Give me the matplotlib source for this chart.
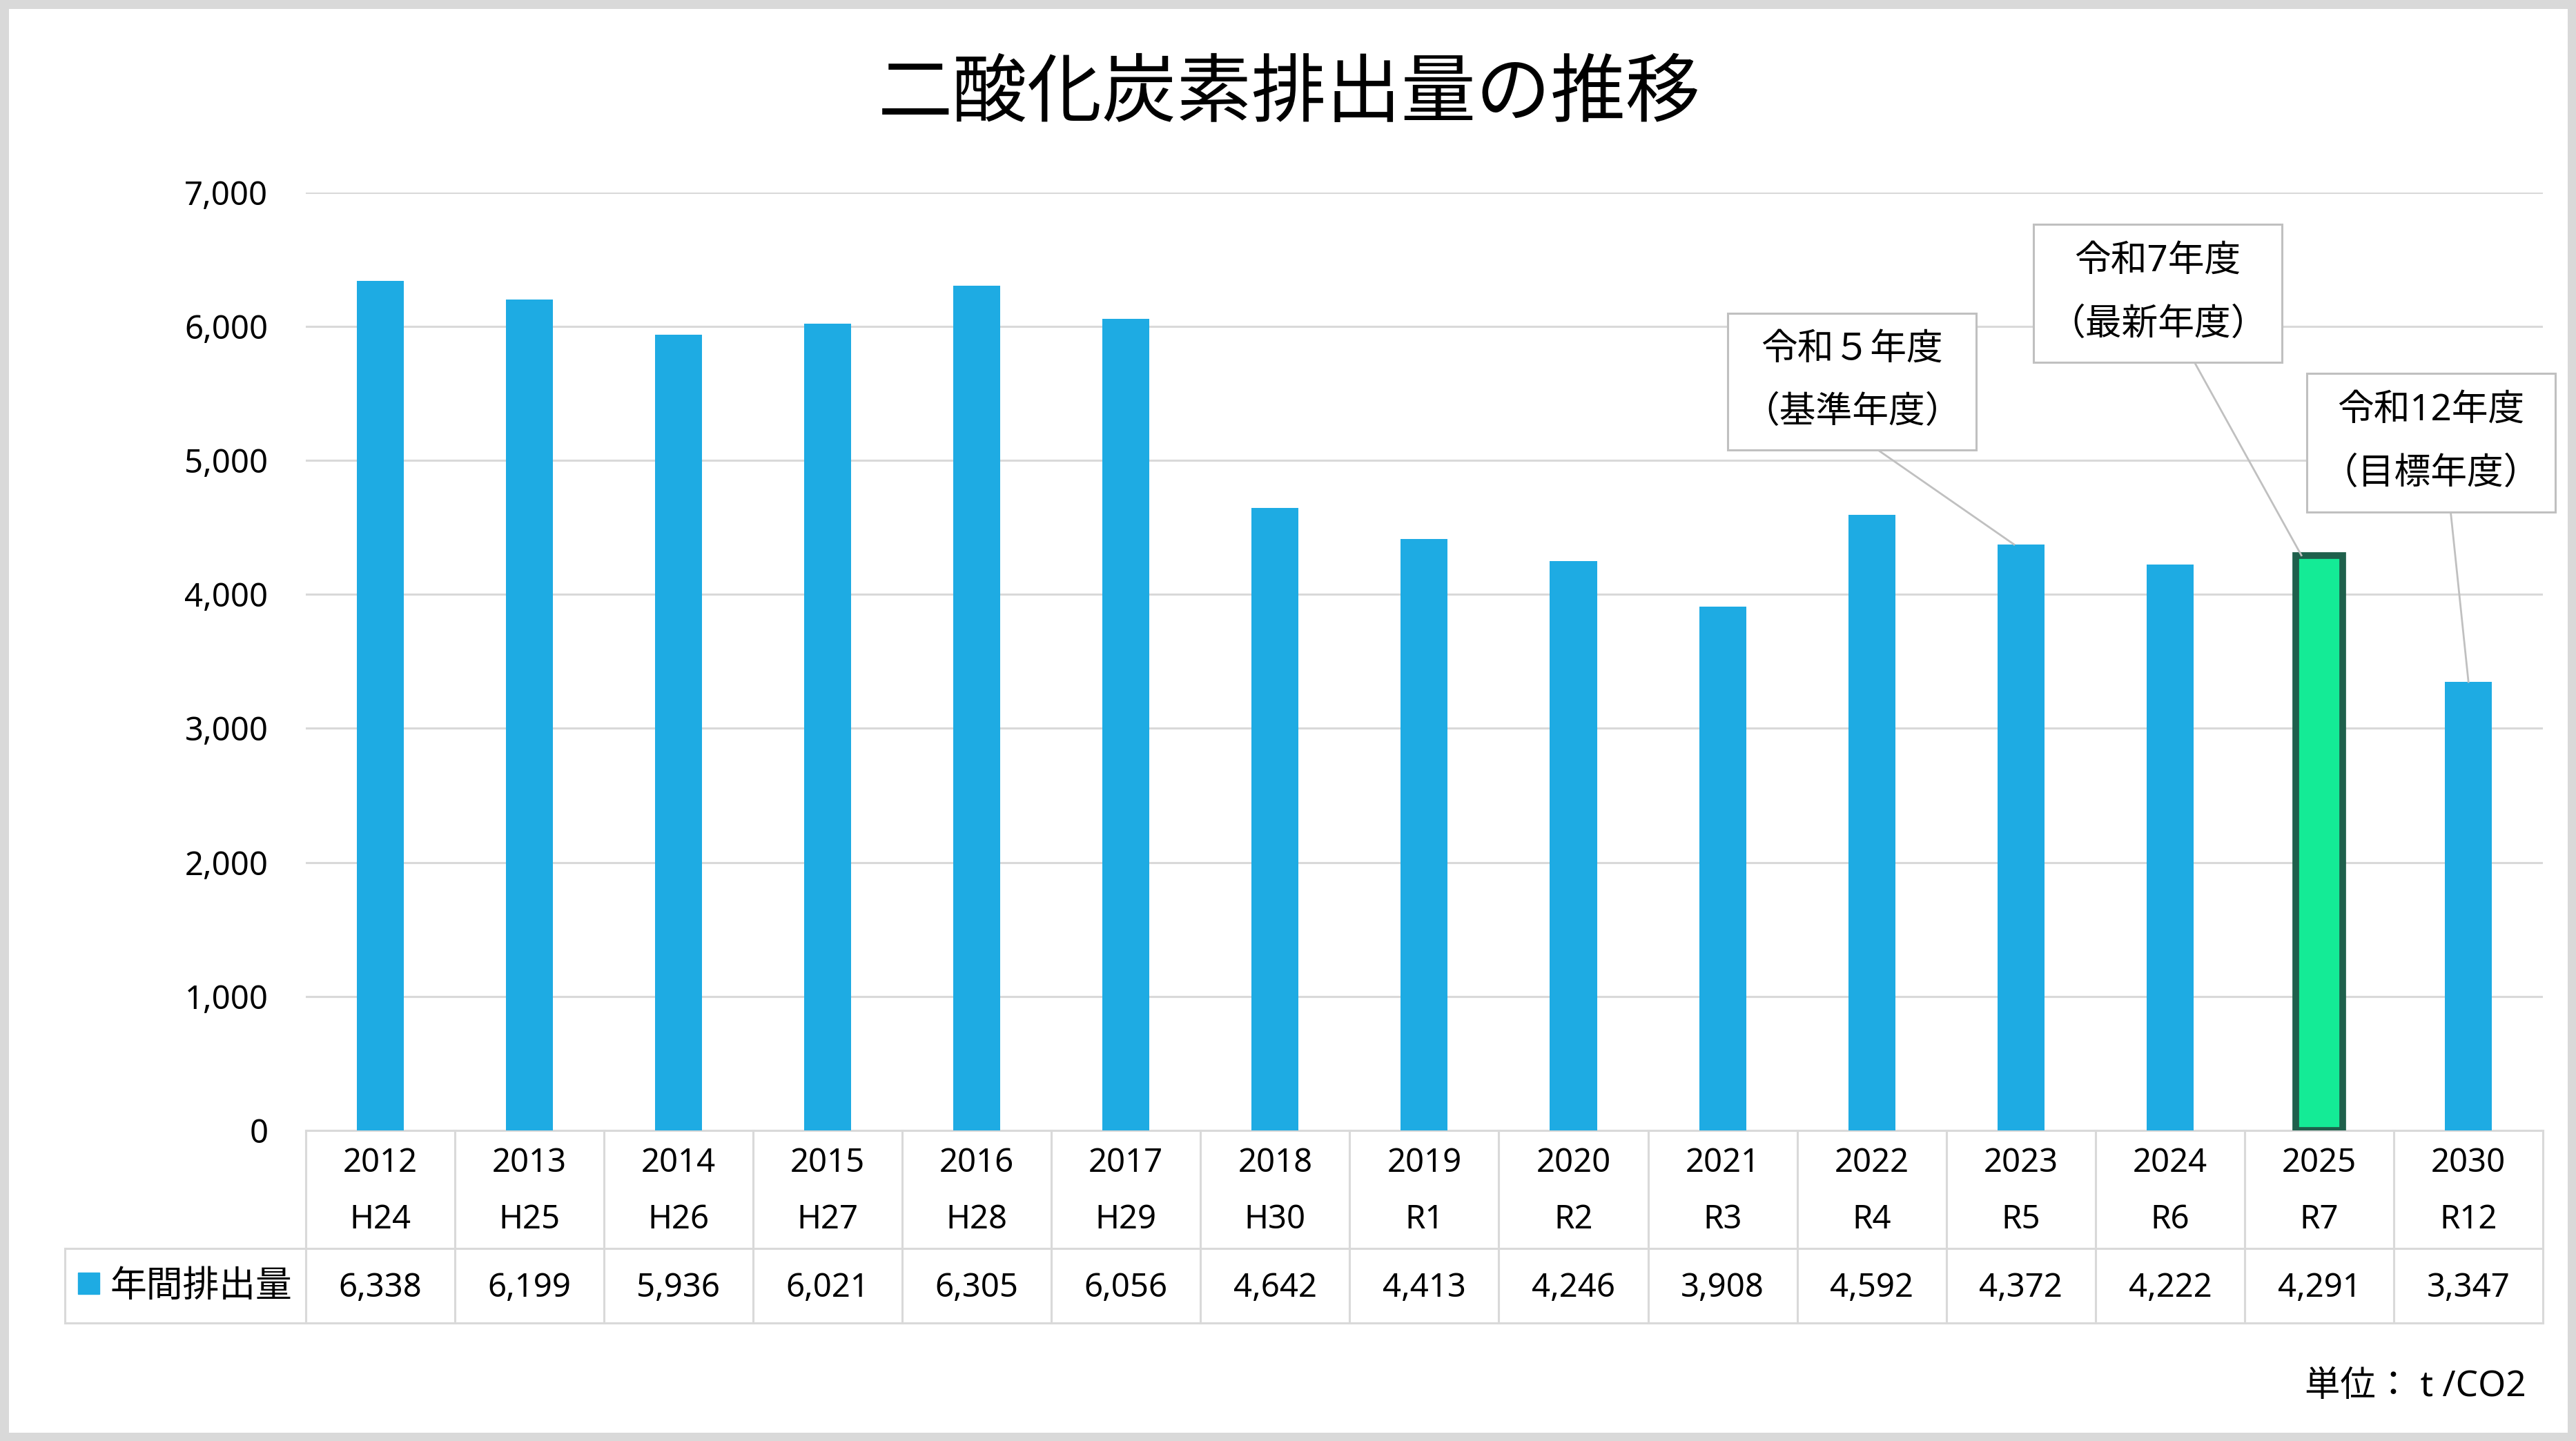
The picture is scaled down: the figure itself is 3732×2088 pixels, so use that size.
import numpy as np
import matplotlib
matplotlib.use("Agg")
from matplotlib import pyplot as plt
from matplotlib.patches import Rectangle
from matplotlib.ticker import FuncFormatter
import matplotlib.transforms as mtransforms

plt.rcParams['font.family'] = ['Noto Sans', 'Noto Sans CJK JP', 'DejaVu Sans']

# data
years = ['2012', '2013', '2014', '2015', '2016', '2017', '2018', '2019',
         '2020', '2021', '2022', '2023', '2024', '2025', '2030']
eras = ['H24', 'H25', 'H26', 'H27', 'H28', 'H29', 'H30', 'R1',
        'R2', 'R3', 'R4', 'R5', 'R6', 'R7', 'R12']
emissions = [6338, 6199, 5936, 6021, 6305, 6056, 4642, 4413,
             4246, 3908, 4592, 4372, 4222, 4291, 3347]
series_name = '年間排出量'
highlight = 13

note_texts = [('令和５年度', '（基準年度）'),
              ('令和7年度', '（最新年度）'),
              ('令和12年度', '（目標年度）')]
note_targets = [11, 13, 14]

BLUE = '#1eabe3'
GREEN = '#14eb96'
DARK_GREEN = '#1f604c'
GRID = '#d9d9d9'
BOXEDGE = '#c0c0c0'

fig = plt.figure(figsize=(37.32, 20.88), dpi=100)
ax = fig.add_axes([0.1186, 0.2155, 0.8686, 0.6511])

x = np.arange(len(years))
colors = [GREEN if i == highlight else BLUE for i in x]
bars = ax.bar(x, emissions, width=0.315, color=colors, zorder=3)
bars[highlight].set_edgecolor(DARK_GREEN)
bars[highlight].set_linewidth(7)

ax.set_xlim(-0.5, len(years) - 0.5)
ax.set_ylim(0, 7000)
ax.set_yticks(np.arange(0, 7001, 1000))
ax.yaxis.set_major_formatter(FuncFormatter(lambda v, p: '{:,.0f}'.format(v)))
ax.set_xticks([])
ax.tick_params(axis='y', length=0, pad=39, labelsize=34)
ax.grid(axis='y', color=GRID, linewidth=2.2, zorder=0)
for s in ['top', 'right', 'left']:
    ax.spines[s].set_visible(False)
ax.spines['bottom'].set_color(GRID)
ax.spines['bottom'].set_linewidth(2.2)

# data table under the axis
tr = mtransforms.blended_transform_factory(ax.transData, ax.transAxes)
row_mid = -0.1261
row_bot = -0.2049
left_x = -2.115
right_x = len(years) - 0.5
lkw = dict(color=GRID, linewidth=2.2, transform=tr, clip_on=False, zorder=1)
ax.plot([left_x, right_x], [row_mid, row_mid], **lkw)
ax.plot([left_x, right_x], [row_bot, row_bot], **lkw)
ax.plot([left_x, left_x], [row_mid, row_bot], **lkw)
for i in range(len(years) + 1):
    xe = i - 0.5
    ax.plot([xe, xe], [0, row_bot], **lkw)

for i in x:
    ax.text(i, -0.035, years[i], ha='center', va='center', fontsize=34, transform=tr)
    ax.text(i, -0.095, eras[i], ha='center', va='center', fontsize=34, transform=tr)
    ax.text(i, -0.168, '{:,}'.format(emissions[i]), ha='center', va='center',
            fontsize=34, transform=tr)

ax.add_patch(Rectangle((-2.027, -0.1745), 0.143, 0.0228, transform=tr,
                       color=BLUE, clip_on=False))
ax.text(-1.81, -0.167, series_name, ha='left', va='center', fontsize=38,
        transform=tr)

# callout boxes
boxes = [(9.036, 10.699, 5075, 6097),
         (11.083, 12.752, 5729, 6759),
         (12.918, 14.581, 4614, 5647)]
start_rel = [0.606, 0.648, 0.579]
end_dx = [-0.046, -0.12, 0.0]
for (x0, x1, y0, y1), (t1, t2), tgt, rel, dx in zip(boxes, note_texts, note_targets,
                                                   start_rel, end_dx):
    ax.add_patch(Rectangle((x0, y0), x1 - x0, y1 - y0, facecolor='white',
                           edgecolor=BOXEDGE, linewidth=2.2, clip_on=False, zorder=5))
    xc = (x0 + x1) / 2
    h = y1 - y0
    ax.text(xc, y1 - 0.27 * h, t1, ha='center', va='center', fontsize=38, zorder=6)
    ax.text(xc, y1 - 0.73 * h, t2, ha='center', va='center', fontsize=38, zorder=6)
    ax.plot([x0 + rel * (x1 - x0), tgt + dx], [y0, emissions[tgt]],
            color=BOXEDGE, linewidth=2, clip_on=False, zorder=4)

fig.text(0.5006, 0.933, '二酸化炭素排出量の推移', ha='center', va='center', fontsize=78)
fig.text(0.9807, 0.0375, '単位： t /CO2', ha='right', va='center', fontsize=37)

fig.patches.append(Rectangle((0, 0), 1, 1, transform=fig.transFigure, fill=False,
                             edgecolor=GRID, linewidth=18))

plt.savefig('out.png', dpi=100)
plt.close()
